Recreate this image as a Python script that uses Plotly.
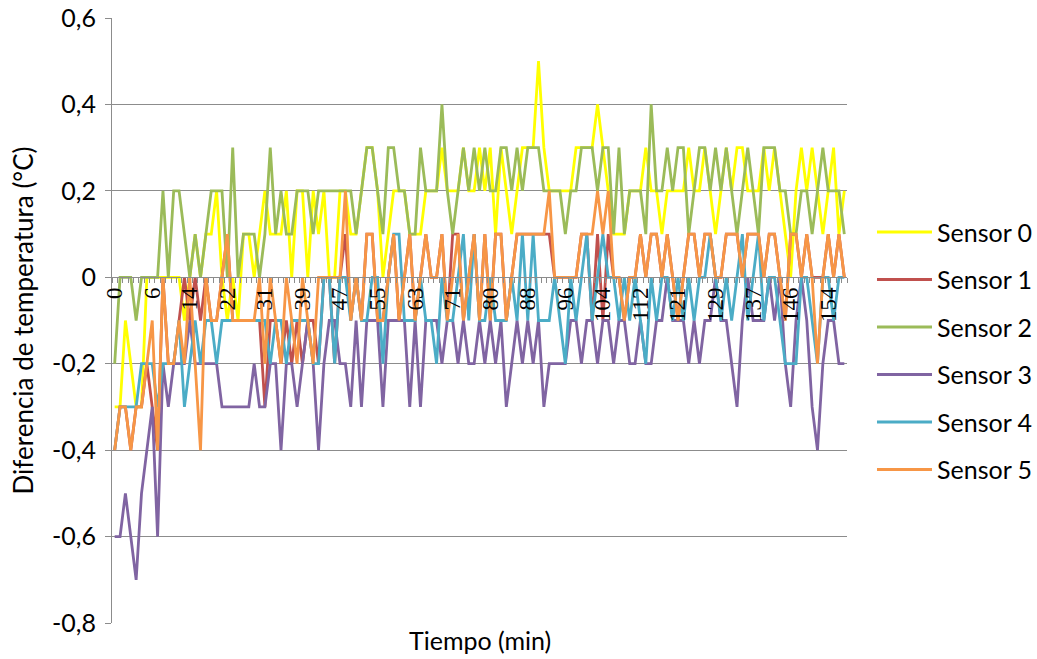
import plotly.graph_objects as go

# sample index (category axis) and the tick labels shown every 7th sample
sample_idx = list(range(137))
tick_pos = list(range(0, 137, 7))
tick_labels = ["0", "6", "14", "22", "31", "39", "47", "55", "63", "71",
               "80", "88", "96", "104", "112", "121", "129", "137", "146", "154"]

y_ticks = [-0.8, -0.6, -0.4, -0.2, 0.0, 0.2, 0.4, 0.6]
y_tick_labels = ["-0,8", "-0,6", "-0,4", "-0,2", "0", "0,2", "0,4", "0,6"]

sensor0 = [
    -0.3, -0.3, -0.1, -0.2, -0.3, -0.3, 0.0, 0.0, 0.0, 0.0,
    0.0, 0.0, 0.0, -0.1, 0.0, 0.1, 0.0, 0.1, 0.1, 0.2,
    0.0, -0.1, 0.0, -0.1, 0.1, 0.1, 0.0, 0.1, 0.2, 0.1,
    0.1, 0.1, 0.2, 0.0, 0.2, 0.2, 0.0, 0.2, 0.1, 0.2,
    0.0, 0.0, 0.2, 0.2, 0.1, 0.1, 0.2, 0.3, 0.3, 0.2,
    0.0, 0.1, 0.2, 0.2, 0.2, 0.1, 0.1, 0.1, 0.2, 0.2,
    0.2, 0.3, 0.2, 0.2, 0.2, 0.3, 0.2, 0.2, 0.3, 0.2,
    0.3, 0.1, 0.3, 0.2, 0.1, 0.2, 0.3, 0.3, 0.3, 0.5,
    0.3, 0.2, 0.2, 0.2, 0.2, 0.2, 0.3, 0.3, 0.3, 0.3,
    0.4, 0.3, 0.2, 0.1, 0.1, 0.1, 0.2, 0.2, 0.2, 0.3,
    0.2, 0.2, 0.1, 0.2, 0.2, 0.2, 0.2, 0.3, 0.2, 0.2,
    0.3, 0.2, 0.1, 0.2, 0.3, 0.2, 0.3, 0.3, 0.2, 0.2,
    0.2, 0.3, 0.2, 0.3, 0.2, 0.1, 0.0, 0.2, 0.3, 0.2,
    0.3, 0.2, 0.1, 0.2, 0.3, 0.1, 0.2]

sensor1 = [
    -0.4, -0.3, -0.3, -0.4, -0.3, -0.3, -0.2, -0.3, -0.4, 0.0,
    -0.2, -0.2, -0.1, 0.0, -0.1, 0.0, -0.1, 0.0, -0.1, -0.1,
    0.0, 0.1, -0.1, -0.1, -0.1, -0.1, -0.1, -0.1, -0.3, -0.1,
    -0.1, -0.2, -0.1, -0.2, -0.1, -0.2, -0.1, -0.1, -0.2, 0.0,
    0.0, -0.2, 0.0, 0.1, -0.1, 0.0, -0.1, 0.1, 0.1, -0.1,
    -0.1, 0.0, 0.1, -0.1, 0.0, 0.1, -0.1, 0.0, 0.1, 0.0,
    0.0, 0.1, -0.1, 0.1, 0.1, -0.1, 0.0, 0.1, -0.1, 0.1,
    -0.1, 0.1, 0.1, -0.1, 0.0, 0.1, 0.1, 0.1, 0.1, 0.1,
    0.1, 0.1, 0.0, 0.0, 0.0, 0.0, 0.0, 0.1, 0.1, -0.1,
    0.1, -0.1, 0.1, 0.0, 0.0, -0.1, 0.0, 0.0, 0.1, 0.0,
    0.1, 0.1, 0.0, 0.1, 0.0, -0.1, 0.0, 0.1, 0.1, 0.0,
    0.1, 0.1, 0.0, 0.0, 0.1, 0.1, 0.1, 0.0, 0.1, 0.1,
    0.1, 0.0, 0.1, 0.1, 0.0, -0.1, 0.1, 0.1, 0.0, 0.1,
    0.0, 0.0, 0.0, 0.1, 0.0, 0.1, 0.0]

sensor2 = [
    -0.2, 0.0, 0.0, 0.0, -0.1, 0.0, 0.0, 0.0, 0.0, 0.2,
    0.0, 0.2, 0.2, 0.1, 0.0, 0.1, 0.0, 0.1, 0.2, 0.2,
    0.2, 0.0, 0.3, 0.0, 0.1, 0.1, 0.1, 0.0, 0.1, 0.3,
    0.1, 0.2, 0.1, 0.1, 0.2, 0.2, 0.2, 0.1, 0.2, 0.2,
    0.2, 0.2, 0.2, 0.2, 0.2, 0.1, 0.2, 0.3, 0.3, 0.2,
    0.1, 0.3, 0.3, 0.2, 0.2, 0.1, 0.1, 0.3, 0.2, 0.2,
    0.2, 0.4, 0.2, 0.1, 0.2, 0.3, 0.2, 0.3, 0.2, 0.3,
    0.2, 0.2, 0.3, 0.3, 0.2, 0.3, 0.2, 0.3, 0.3, 0.3,
    0.2, 0.2, 0.2, 0.2, 0.1, 0.2, 0.2, 0.3, 0.3, 0.3,
    0.2, 0.3, 0.3, 0.1, 0.3, 0.1, 0.2, 0.2, 0.2, 0.1,
    0.4, 0.2, 0.2, 0.3, 0.2, 0.3, 0.3, 0.1, 0.2, 0.3,
    0.3, 0.2, 0.3, 0.2, 0.3, 0.2, 0.1, 0.2, 0.3, 0.2,
    0.1, 0.3, 0.3, 0.3, 0.2, 0.2, 0.1, 0.1, 0.2, 0.2,
    0.1, 0.2, 0.3, 0.2, 0.2, 0.2, 0.1]

sensor3 = [
    -0.6, -0.6, -0.5, -0.6, -0.7, -0.5, -0.4, -0.3, -0.6, -0.2,
    -0.3, -0.2, -0.2, -0.2, -0.1, -0.2, -0.2, -0.2, -0.2, -0.2,
    -0.3, -0.3, -0.3, -0.3, -0.3, -0.3, -0.2, -0.3, -0.3, -0.2,
    -0.2, -0.4, -0.2, -0.2, -0.3, -0.2, -0.1, -0.2, -0.4, -0.2,
    -0.1, -0.1, -0.2, -0.2, -0.3, -0.1, -0.3, -0.1, -0.1, -0.1,
    -0.3, -0.1, -0.1, -0.1, -0.1, -0.3, -0.1, -0.3, -0.1, -0.1,
    -0.1, -0.2, -0.1, -0.1, -0.2, -0.1, -0.2, -0.2, -0.1, -0.2,
    -0.1, -0.2, -0.1, -0.3, -0.2, -0.1, -0.2, -0.1, -0.2, -0.1,
    -0.3, -0.2, -0.2, -0.2, -0.2, -0.1, -0.1, -0.2, -0.1, -0.1,
    -0.2, -0.1, -0.1, -0.2, -0.1, -0.1, -0.2, -0.2, -0.1, -0.2,
    -0.2, -0.1, -0.1, 0.0, -0.1, -0.1, -0.1, -0.2, -0.1, -0.2,
    -0.1, -0.1, 0.0, -0.1, -0.1, -0.2, -0.3, -0.1, 0.0, -0.1,
    -0.1, -0.1, 0.0, -0.1, 0.0, -0.2, -0.3, -0.1, 0.0, -0.1,
    -0.3, -0.4, -0.2, -0.1, -0.1, -0.2, -0.2]

sensor4 = [
    -0.4, -0.3, -0.3, -0.3, -0.3, -0.2, -0.2, -0.2, -0.3, -0.2,
    -0.2, -0.2, -0.1, -0.3, -0.2, -0.1, -0.2, -0.1, -0.1, -0.2,
    -0.1, -0.1, -0.1, -0.1, -0.1, -0.1, -0.1, -0.1, -0.1, -0.2,
    -0.1, -0.1, -0.2, -0.1, -0.1, -0.1, -0.1, -0.2, -0.2, 0.0,
    0.0, -0.2, 0.0, 0.0, -0.1, 0.0, -0.1, -0.1, 0.0, 0.0,
    -0.2, 0.0, 0.1, 0.1, -0.1, -0.1, -0.1, 0.0, -0.1, -0.1,
    -0.2, 0.0, -0.1, -0.1, 0.0, 0.1, -0.1, 0.1, -0.1, -0.1,
    0.0, -0.1, -0.1, -0.1, 0.0, -0.1, 0.1, -0.1, 0.1, -0.1,
    -0.1, -0.1, 0.0, -0.1, -0.2, 0.0, -0.1, 0.0, 0.1, -0.1,
    0.0, 0.1, 0.0, 0.0, -0.1, 0.0, -0.1, 0.0, -0.1, -0.2,
    0.0, -0.1, 0.0, 0.0, -0.1, 0.0, -0.1, 0.0, -0.1, 0.0,
    0.0, 0.1, 0.0, -0.1, 0.0, -0.1, 0.0, 0.1, -0.1, 0.0,
    0.1, -0.1, 0.0, 0.0, -0.1, -0.2, -0.2, -0.2, 0.0, 0.0,
    -0.1, -0.2, 0.0, 0.0, -0.1, 0.0, 0.0]

sensor5 = [
    -0.4, -0.3, -0.3, -0.4, -0.3, -0.3, -0.2, -0.1, -0.4, 0.0,
    -0.2, -0.2, -0.1, -0.2, 0.0, -0.2, -0.4, 0.0, -0.1, -0.1,
    0.0, 0.1, -0.1, -0.1, -0.1, -0.1, -0.1, 0.0, -0.2, 0.0,
    -0.1, -0.2, 0.0, -0.1, -0.2, 0.0, -0.1, -0.2, 0.0, 0.0,
    0.0, 0.0, 0.0, 0.2, -0.1, 0.0, -0.1, 0.1, 0.1, -0.1,
    -0.1, 0.0, 0.1, -0.1, 0.0, 0.1, -0.1, 0.0, 0.1, 0.0,
    0.0, 0.1, -0.1, 0.0, 0.1, -0.1, 0.0, 0.1, -0.1, 0.1,
    -0.1, 0.1, 0.1, -0.1, 0.0, 0.1, 0.1, 0.1, 0.1, 0.1,
    0.1, 0.2, 0.0, 0.0, 0.0, 0.0, 0.0, 0.1, 0.1, 0.1,
    0.2, 0.1, 0.2, 0.0, 0.0, -0.1, 0.0, 0.0, 0.1, 0.0,
    0.1, 0.1, 0.0, 0.1, 0.0, -0.1, 0.0, 0.1, 0.1, 0.0,
    0.1, 0.1, 0.0, 0.0, 0.1, 0.1, 0.1, 0.0, 0.1, 0.1,
    0.1, 0.0, 0.1, 0.1, 0.0, -0.1, 0.1, 0.1, 0.0, 0.1,
    0.0, -0.2, 0.0, 0.1, 0.0, 0.1, 0.0]

series_names = ["Sensor 0", "Sensor 1", "Sensor 2", "Sensor 3", "Sensor 4", "Sensor 5"]
series_values = [sensor0, sensor1, sensor2, sensor3, sensor4, sensor5]
series_colors = ["#FFFF00", "#C0504D", "#9BBB59", "#8064A2", "#4BACC6", "#F79646"]

SANS = "Lato, 'Open Sans', sans-serif"
SERIF = "'Liberation Serif', 'DejaVu Serif', serif"
GRID = "#8C8C8C"

fig = go.Figure()
for name, vals, col in zip(series_names, series_values, series_colors):
    fig.add_trace(go.Scatter(
        x=sample_idx, y=vals, mode="lines", name=name,
        legendgroup=name,
        line=dict(color=col, width=2.8),
    ))

fig.update_layout(
    width=1037, height=659,
    margin=dict(l=112, r=190, t=18, b=36, autoexpand=False),
    paper_bgcolor="white", plot_bgcolor="white",
    showlegend=True,
    legend=dict(
        x=1.034, y=0.45, xanchor="left", yanchor="middle",
        font=dict(family=SANS, size=25, color="#000000"),
        tracegroupgap=12, itemwidth=55, bgcolor="rgba(0,0,0,0)",
    ),
    xaxis=dict(
        range=[-0.5, 136.5], automargin=False,
        anchor="free", position=0.8 / 1.4,
        showgrid=False, zeroline=False,
        showline=True, linecolor=GRID, linewidth=1,
        tickmode="array", tickvals=tick_pos, ticktext=tick_labels,
        tickangle=-90, ticks="",
        tickfont=dict(family=SERIF, size=23, color="#000000"),
        minor=dict(tick0=-0.5, dtick=1, ticks="outside", ticklen=5,
                   tickcolor=GRID, tickwidth=1, showgrid=False),
    ),
    yaxis=dict(
        range=[-0.8, 0.6], automargin=False,
        tickmode="array", tickvals=y_ticks, ticktext=y_tick_labels,
        showgrid=True, gridcolor=GRID, gridwidth=1,
        zeroline=False,
        showline=True, linecolor=GRID, linewidth=1,
        ticks="outside", ticklen=6, tickcolor=GRID,
        ticklabelstandoff=4,
        tickfont=dict(family=SANS, size=25, color="#000000"),
        title=dict(text="Diferencia de temperatura (°C)",
                   font=dict(family=SANS, size=26, color="#000000"),
                   standoff=10),
    ),
    annotations=[dict(
        text="Tiempo (min)", x=0.5, y=-0.028, xref="paper", yref="paper",
        xanchor="center", yanchor="middle", showarrow=False,
        font=dict(family=SANS, size=25, color="#000000"),
    )],
)

fig.write_html("out.html")
